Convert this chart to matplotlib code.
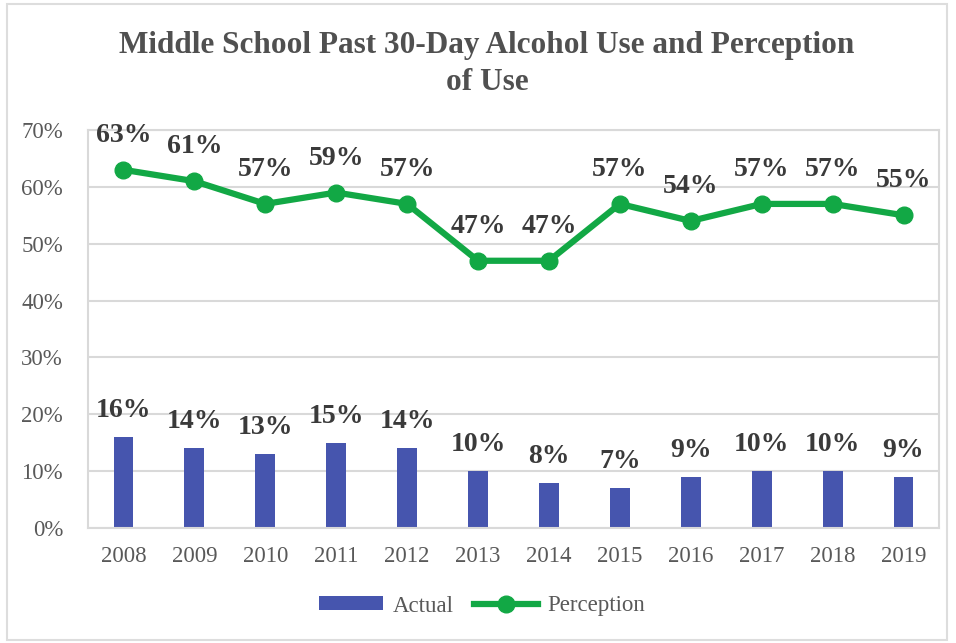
import matplotlib
matplotlib.use("Agg")
import matplotlib.pyplot as plt
from matplotlib.lines import Line2D
from matplotlib.patches import Patch, Rectangle

years = ["2008", "2009", "2010", "2011", "2012", "2013", "2014", "2015", "2016", "2017", "2018", "2019"]
actual = [16, 14, 13, 15, 14, 10, 8, 7, 9, 10, 10, 9]
perception = [63, 61, 57, 59, 57, 47, 47, 57, 54, 57, 57, 55]
yticks = [0, 10, 20, 30, 40, 50, 60, 70]
title = "Middle School Past 30-Day Alcohol Use and Perception\nof Use"

SERIF = ["Liberation Serif", "DejaVu Serif"]
plt.rcParams["font.family"] = SERIF

bar_color = "#4655AE"
line_color = "#12A845"
grid_color = "#D9D9D9"
tick_color = "#595959"
label_color = "#3A3A3A"

fig = plt.figure(figsize=(9.56, 6.43), dpi=100)
fig.patch.set_facecolor("white")
fig.add_artist(Rectangle((7 / 956, 3 / 643), 940 / 956, 636 / 643, transform=fig.transFigure,
                         fill=False, edgecolor="#DDDDDD", linewidth=1.5))

ax = fig.add_axes([88 / 956, 1 - 528 / 643, (939 - 88) / 956, (528 - 130) / 643])
x = list(range(len(years)))

ax.bar(x, actual, width=0.28, color=bar_color, zorder=2)
ax.plot(x, perception, color=line_color, linewidth=4.5, marker="o", markersize=12,
        zorder=3)

ax.set_xlim(-0.5, len(years) - 0.5)
ax.set_ylim(0, 70)
ax.set_yticks(yticks)
ax.set_yticklabels([f"{v}%" for v in yticks])
ax.set_xticks(x)
ax.set_xticklabels(years)
ax.tick_params(axis="both", length=0, colors=tick_color, labelsize=16.5)
ax.tick_params(axis="x", pad=13)
ax.tick_params(axis="y", pad=18)
ax.grid(axis="y", color=grid_color, linewidth=1.5, zorder=0)
ax.set_axisbelow(True)
for s in ax.spines.values():
    s.set_color(grid_color)
    s.set_linewidth(1.5)

for xi, v in zip(x, perception):
    ax.annotate(f"{v}%", (xi, v), xytext=(0, 28), textcoords="offset pixels",
                ha="center", va="baseline", fontsize=20, fontweight="bold",
                color=label_color)
for xi, v in zip(x, actual):
    ax.annotate(f"{v}%", (xi, v), xytext=(0, 20), textcoords="offset pixels",
                ha="center", va="baseline", fontsize=20, fontweight="bold",
                color=label_color)

fig.text(487 / 956, 1 - 64 / 643, title, ha="center", va="center", fontsize=22.5,
         fontweight="bold", color="#505050", linespacing=1.35)

handles = [Patch(facecolor=bar_color, label="Actual"),
           Line2D([0], [0], color=line_color, linewidth=4.5, marker="o", markersize=12,
                  label="Perception")]
fig.legend(handles=handles, loc="center", bbox_to_anchor=(482 / 956, 1 - 606 / 643),
           ncol=2, frameon=False, fontsize=16.5, labelcolor=tick_color,
           handlelength=2.8, handleheight=0.55, columnspacing=0.9, handletextpad=0.4)

fig.savefig("out.png", dpi=100, facecolor="white")
